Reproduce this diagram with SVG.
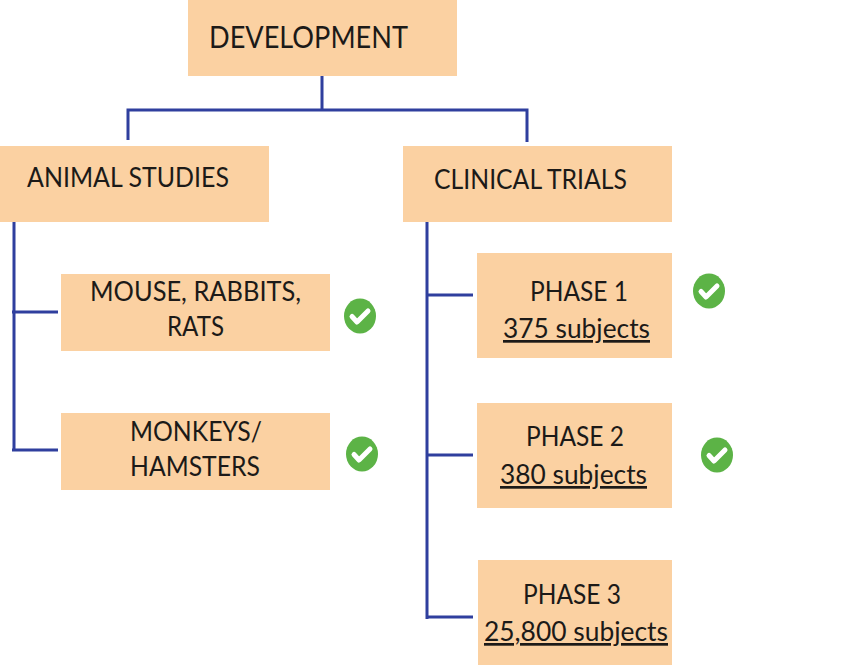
<svg xmlns="http://www.w3.org/2000/svg" width="850" height="665" viewBox="0 0 850 665">
<style>
.box{fill:#fbd1a2}
.t{font-family:Lato,"Liberation Sans",sans-serif;fill:#1c1a18;font-size:27px}
.h{font-size:31px}
.u{text-decoration:underline}
.c{fill:none;stroke:#2f3f9e;stroke-width:3}
.ok{fill:#5cb346}
.tick{fill:none;stroke:#fff;stroke-width:5;stroke-linecap:round;stroke-linejoin:round}
</style>
<defs>
<g id="check"><ellipse class="ok" rx="16" ry="17.5"/><path class="tick" d="M-8,0.5L-3,6L8,-5"/></g>
</defs>
<rect width="850" height="665" fill="#fff"/>
<g id="connectors">
<path class="c" d="M322,76V110M128,140V110H527V142"/>
<path class="c" d="M14,222V451M12,312H58M12,450H58"/>
<path class="c" d="M427,222V619M427,295H473M427,455H473M427,617H473"/>
</g>
<g id="development"><rect class="box" x="188" y="0" width="269" height="76"/><text class="t h" x="209" y="48" textLength="199" lengthAdjust="spacingAndGlyphs">DEVELOPMENT</text></g>
<g id="animal-studies"><rect class="box" x="0" y="146" width="269" height="76"/><text class="t" x="27" y="187" textLength="202" lengthAdjust="spacingAndGlyphs">ANIMAL STUDIES</text></g>
<g id="clinical-trials"><rect class="box" x="403" y="146" width="269" height="76"/><text class="t" x="434" y="189" textLength="193" lengthAdjust="spacingAndGlyphs">CLINICAL TRIALS</text></g>
<g id="mouse"><rect class="box" x="61" y="274" width="269" height="77"/><text class="t" x="90" y="301" textLength="211" lengthAdjust="spacingAndGlyphs">MOUSE, RABBITS,</text><text class="t" x="167" y="336" textLength="57" lengthAdjust="spacingAndGlyphs">RATS</text></g>
<g id="monkeys"><rect class="box" x="61" y="413" width="269" height="77"/><text class="t" x="130" y="441" textLength="132" lengthAdjust="spacingAndGlyphs">MONKEYS/</text><text class="t" x="130" y="476" textLength="130" lengthAdjust="spacingAndGlyphs">HAMSTERS</text></g>
<g id="phase-1"><rect class="box" x="477" y="253" width="195" height="105"/><text class="t" x="530" y="301" textLength="98" lengthAdjust="spacingAndGlyphs">PHASE 1</text><text class="t u" x="503" y="338" textLength="147" lengthAdjust="spacingAndGlyphs">375 subjects</text></g>
<g id="phase-2"><rect class="box" x="477" y="403" width="195" height="105"/><text class="t" x="526" y="446" textLength="98" lengthAdjust="spacingAndGlyphs">PHASE 2</text><text class="t u" x="500" y="484" textLength="147" lengthAdjust="spacingAndGlyphs">380 subjects</text></g>
<g id="phase-3"><rect class="box" x="478" y="560" width="194" height="105"/><text class="t" x="523" y="604" textLength="98" lengthAdjust="spacingAndGlyphs">PHASE 3</text><text class="t u" x="484" y="641" textLength="184" lengthAdjust="spacingAndGlyphs">25,800 subjects</text></g>
<use href="#check" x="360" y="316"/>
<use href="#check" x="362" y="454"/>
<use href="#check" x="709" y="291"/>
<use href="#check" x="717" y="455"/>
</svg>
